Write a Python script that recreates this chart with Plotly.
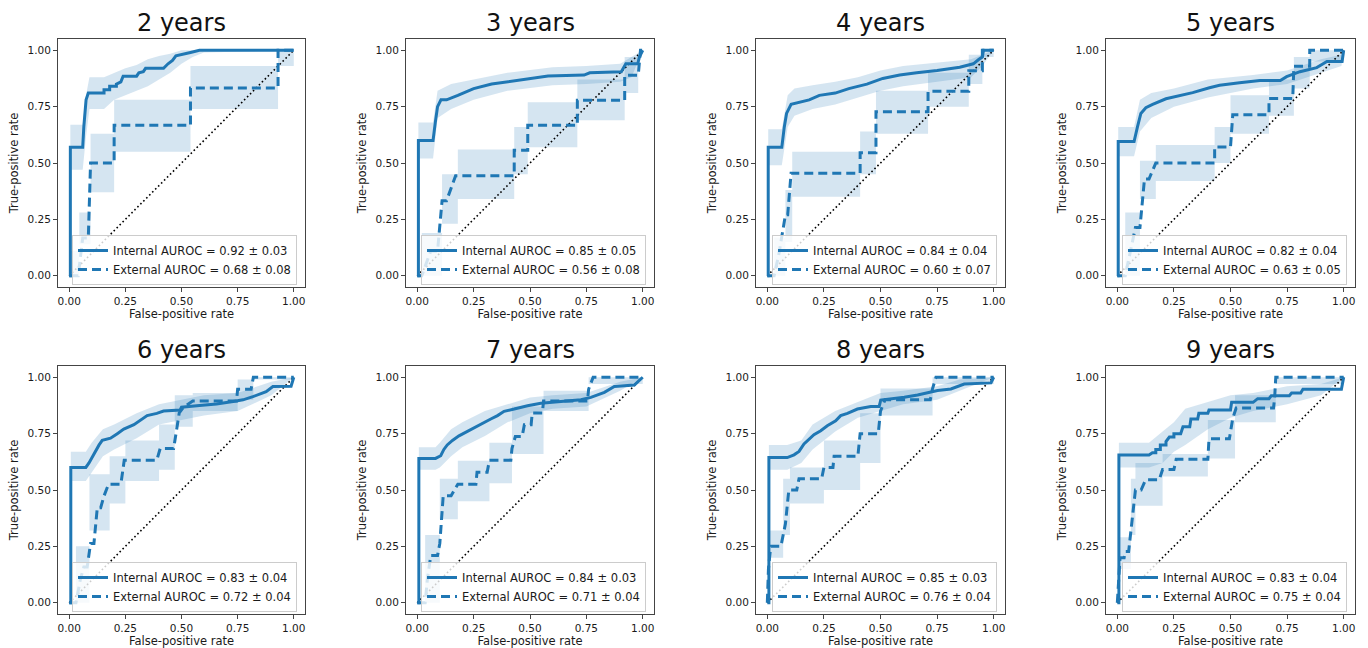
import plotly.graph_objects as go

# ---------------- data ----------------
PANEL_TITLES = ["2 years", "3 years", "4 years", "5 years", "6 years", "7 years", "8 years", "9 years"]
INT_LABELS = ["Internal AUROC = 0.92 ± 0.03", "Internal AUROC = 0.85 ± 0.05", "Internal AUROC = 0.84 ± 0.04",
              "Internal AUROC = 0.82 ± 0.04", "Internal AUROC = 0.83 ± 0.04", "Internal AUROC = 0.84 ± 0.03",
              "Internal AUROC = 0.85 ± 0.03", "Internal AUROC = 0.83 ± 0.04"]
EXT_LABELS = ["External AUROC = 0.68 ± 0.08", "External AUROC = 0.56 ± 0.08", "External AUROC = 0.60 ± 0.07",
              "External AUROC = 0.63 ± 0.05", "External AUROC = 0.72 ± 0.04", "External AUROC = 0.71 ± 0.04",
              "External AUROC = 0.76 ± 0.04", "External AUROC = 0.75 ± 0.04"]
TICK_VALS = [0, 0.25, 0.5, 0.75, 1.0]
TICK_TEXT = ["0.00", "0.25", "0.50", "0.75", "1.00"]

# 2 years
INT_X_2 = [0, 0.005, 0.005, 0.06, 0.065, 0.075, 0.085, 0.155, 0.155, 0.18, 0.18, 0.21, 0.21, 0.23, 0.24, 0.30, 0.31, 0.33, 0.34, 0.36, 0.42, 0.44, 0.46, 0.475, 0.50, 0.54, 0.58, 1.0]
INT_Y_2 = [0, 0, 0.57, 0.57, 0.66, 0.78, 0.81, 0.81, 0.825, 0.825, 0.84, 0.84, 0.85, 0.86, 0.885, 0.885, 0.90, 0.905, 0.92, 0.92, 0.92, 0.94, 0.955, 0.975, 0.98, 0.99, 1.0, 1.0]
IB_X_2 = [0.005, 0.06, 0.075, 0.09, 0.155, 0.20, 0.25, 0.30, 0.35, 0.40, 0.45, 0.50, 0.55, 0.60, 1.0]
IB_LO_2 = [0.47, 0.47, 0.62, 0.74, 0.74, 0.78, 0.80, 0.82, 0.84, 0.87, 0.90, 0.94, 0.97, 0.99, 1.0]
IB_HI_2 = [0.67, 0.67, 0.80, 0.88, 0.88, 0.90, 0.92, 0.935, 0.96, 0.975, 0.985, 1.0, 1.0, 1.0, 1.0]
EXT_X_2 = [0, 0.04, 0.06, 0.085, 0.095, 0.20, 0.20, 0.54, 0.54, 0.93, 0.93, 1.0]
EXT_Y_2 = [0, 0, 0.167, 0.167, 0.5, 0.5, 0.667, 0.667, 0.833, 0.833, 1.0, 1.0]
EB_X_2 = [0, 0.045, 0.095, 0.20, 0.54, 0.93, 1.0]
EB_LO_2 = [0, 0.14, 0.37, 0.55, 0.74, 0.93]
EB_HI_2 = [0.11, 0.28, 0.63, 0.78, 0.93, 1.0]

# 3 years
INT_X_3 = [0, 0.005, 0.005, 0.07, 0.08, 0.09, 0.105, 0.13, 0.18, 0.25, 0.33, 0.40, 0.49, 0.58, 0.74, 0.765, 0.905, 0.925, 0.978, 0.985, 1.0]
INT_Y_3 = [0, 0, 0.60, 0.60, 0.68, 0.75, 0.78, 0.78, 0.80, 0.83, 0.85, 0.86, 0.875, 0.886, 0.89, 0.90, 0.905, 0.94, 0.94, 0.97, 1.0]
IB_X_3 = [0.005, 0.07, 0.09, 0.15, 0.25, 0.40, 0.60, 0.75, 0.90, 0.95, 1.0]
IB_LO_3 = [0.52, 0.52, 0.70, 0.74, 0.78, 0.82, 0.845, 0.85, 0.86, 0.88, 1.0]
IB_HI_3 = [0.68, 0.68, 0.82, 0.85, 0.87, 0.90, 0.925, 0.93, 0.94, 0.97, 1.0]
EXT_X_3 = [0, 0.02, 0.06, 0.09, 0.11, 0.13, 0.17, 0.43, 0.43, 0.49, 0.49, 0.71, 0.71, 0.92, 0.92, 0.98, 0.99, 1.0]
EXT_Y_3 = [0, 0, 0.11, 0.11, 0.333, 0.333, 0.444, 0.444, 0.556, 0.556, 0.667, 0.667, 0.778, 0.778, 0.889, 0.889, 1.0, 1.0]
EB_X_3 = [0.02, 0.11, 0.18, 0.43, 0.49, 0.71, 0.92, 0.98, 1.0]
EB_LO_3 = [0.0, 0.23, 0.34, 0.45, 0.57, 0.69, 0.81, 1.0]
EB_HI_3 = [0.19, 0.45, 0.56, 0.66, 0.77, 0.87, 0.97, 1.0]

# 4 years
INT_X_4 = [0, 0.004, 0.004, 0.064, 0.075, 0.085, 0.105, 0.15, 0.185, 0.23, 0.30, 0.36, 0.44, 0.51, 0.585, 0.66, 0.75, 0.85, 0.91, 0.935, 0.95, 0.955, 1.0]
INT_Y_4 = [0, 0, 0.57, 0.57, 0.66, 0.72, 0.76, 0.77, 0.78, 0.80, 0.81, 0.83, 0.85, 0.875, 0.89, 0.90, 0.91, 0.925, 0.94, 0.96, 0.97, 1.0, 1.0]
IB_X_4 = [0.004, 0.064, 0.09, 0.12, 0.20, 0.30, 0.40, 0.50, 0.60, 0.75, 0.90, 0.95, 1.0]
IB_LO_4 = [0.49, 0.49, 0.66, 0.71, 0.74, 0.76, 0.79, 0.82, 0.84, 0.86, 0.88, 0.93, 1.0]
IB_HI_4 = [0.65, 0.65, 0.80, 0.83, 0.845, 0.86, 0.88, 0.91, 0.93, 0.945, 0.96, 0.98, 1.0]
EXT_X_4 = [0, 0.03, 0.05, 0.08, 0.09, 0.105, 0.41, 0.41, 0.48, 0.48, 0.71, 0.71, 0.89, 0.89, 0.95, 0.95, 1.0]
EXT_Y_4 = [0, 0, 0.09, 0.27, 0.27, 0.455, 0.455, 0.545, 0.545, 0.727, 0.727, 0.818, 0.818, 0.909, 0.909, 1.0, 1.0]
EB_X_4 = [0.03, 0.08, 0.11, 0.41, 0.48, 0.71, 0.89, 0.95, 1.0]
EB_LO_4 = [0.0, 0.15, 0.35, 0.45, 0.63, 0.75, 0.85, 0.97]
EB_HI_4 = [0.17, 0.38, 0.55, 0.64, 0.82, 0.90, 0.98, 1.0]

# 5 years
INT_X_5 = [0, 0.004, 0.004, 0.074, 0.089, 0.104, 0.126, 0.156, 0.215, 0.274, 0.333, 0.407, 0.452, 0.54, 0.63, 0.72, 0.748, 0.807, 0.881, 0.926, 0.993, 1.0]
INT_Y_5 = [0, 0, 0.595, 0.595, 0.66, 0.72, 0.745, 0.76, 0.785, 0.797, 0.812, 0.834, 0.845, 0.856, 0.866, 0.866, 0.883, 0.905, 0.923, 0.95, 0.95, 1.0]
IB_X_5 = [0.004, 0.074, 0.10, 0.15, 0.25, 0.40, 0.60, 0.75, 0.90, 0.99, 1.0]
IB_LO_5 = [0.53, 0.53, 0.64, 0.70, 0.75, 0.79, 0.83, 0.85, 0.90, 0.93, 1.0]
IB_HI_5 = [0.66, 0.66, 0.78, 0.81, 0.83, 0.87, 0.89, 0.91, 0.96, 0.98, 1.0]
EXT_X_5 = [0, 0.035, 0.05, 0.065, 0.08, 0.10, 0.12, 0.14, 0.17, 0.43, 0.43, 0.50, 0.51, 0.67, 0.67, 0.775, 0.78, 0.85, 0.85, 1.0]
EXT_Y_5 = [0, 0, 0.071, 0.143, 0.214, 0.214, 0.429, 0.429, 0.5, 0.5, 0.571, 0.571, 0.714, 0.714, 0.786, 0.786, 0.929, 0.929, 1.0, 1.0]
EB_X_5 = [0.035, 0.10, 0.17, 0.43, 0.50, 0.67, 0.78, 0.85, 1.0]
EB_LO_5 = [0.0, 0.34, 0.42, 0.50, 0.63, 0.71, 0.83, 0.95]
EB_HI_5 = [0.28, 0.51, 0.58, 0.66, 0.80, 0.87, 0.97, 1.0]

# 6 years
INT_X_6 = [0, 0.007, 0.007, 0.074, 0.088, 0.11, 0.133, 0.147, 0.184, 0.214, 0.243, 0.288, 0.317, 0.347, 0.39, 0.42, 0.494, 0.50, 0.58, 0.656, 0.73, 0.774, 0.818, 0.877, 0.907, 0.988, 1.0]
INT_Y_6 = [0, 0, 0.60, 0.60, 0.62, 0.66, 0.70, 0.72, 0.73, 0.75, 0.77, 0.79, 0.81, 0.83, 0.84, 0.85, 0.855, 0.867, 0.875, 0.881, 0.893, 0.90, 0.914, 0.936, 0.959, 0.96, 1.0]
IB_X_6 = [0.007, 0.074, 0.10, 0.15, 0.20, 0.30, 0.40, 0.50, 0.60, 0.75, 0.90, 1.0]
IB_LO_6 = [0.54, 0.54, 0.58, 0.65, 0.68, 0.73, 0.79, 0.81, 0.83, 0.85, 0.92, 1.0]
IB_HI_6 = [0.67, 0.67, 0.71, 0.77, 0.79, 0.84, 0.88, 0.90, 0.92, 0.93, 0.98, 1.0]
EXT_X_6 = [0, 0.03, 0.05, 0.065, 0.08, 0.095, 0.11, 0.125, 0.14, 0.155, 0.175, 0.23, 0.245, 0.39, 0.405, 0.465, 0.49, 0.51, 0.55, 0.745, 0.75, 0.81, 0.82, 1.0]
EXT_Y_6 = [0, 0, 0.105, 0.158, 0.158, 0.263, 0.263, 0.421, 0.421, 0.474, 0.526, 0.526, 0.632, 0.632, 0.684, 0.684, 0.842, 0.868, 0.895, 0.895, 0.947, 0.947, 1.0, 1.0]
EB_X_6 = [0.03, 0.09, 0.18, 0.25, 0.40, 0.47, 0.55, 0.75, 0.82, 1.0]
EB_LO_6 = [0.0, 0.32, 0.44, 0.54, 0.59, 0.78, 0.85, 0.90, 0.99]
EB_HI_6 = [0.25, 0.57, 0.65, 0.72, 0.79, 0.92, 0.93, 0.99, 1.0]

# 7 years
INT_X_7 = [0, 0.007, 0.007, 0.081, 0.104, 0.118, 0.133, 0.156, 0.185, 0.222, 0.252, 0.296, 0.326, 0.356, 0.385, 0.43, 0.489, 0.548, 0.637, 0.726, 0.77, 0.83, 0.874, 0.963, 1.0]
INT_Y_7 = [0, 0, 0.64, 0.64, 0.652, 0.68, 0.70, 0.72, 0.74, 0.76, 0.778, 0.80, 0.815, 0.83, 0.849, 0.859, 0.874, 0.885, 0.893, 0.90, 0.911, 0.933, 0.959, 0.966, 1.0]
IB_X_7 = [0.007, 0.081, 0.10, 0.15, 0.20, 0.30, 0.40, 0.50, 0.60, 0.75, 0.90, 1.0]
IB_LO_7 = [0.59, 0.59, 0.60, 0.65, 0.69, 0.74, 0.80, 0.84, 0.86, 0.87, 0.94, 1.0]
IB_HI_7 = [0.69, 0.69, 0.71, 0.77, 0.80, 0.85, 0.88, 0.91, 0.92, 0.93, 0.98, 1.0]
EXT_X_7 = [0, 0.035, 0.045, 0.06, 0.09, 0.10, 0.115, 0.15, 0.18, 0.26, 0.265, 0.31, 0.32, 0.415, 0.42, 0.435, 0.465, 0.475, 0.505, 0.51, 0.555, 0.56, 0.755, 0.76, 0.78, 1.0]
EXT_Y_7 = [0, 0, 0.105, 0.21, 0.21, 0.263, 0.474, 0.474, 0.526, 0.526, 0.579, 0.579, 0.632, 0.632, 0.684, 0.737, 0.737, 0.789, 0.789, 0.842, 0.842, 0.895, 0.895, 0.947, 1.0, 1.0]
EB_X_7 = [0.035, 0.10, 0.18, 0.32, 0.42, 0.56, 0.76, 1.0]
EB_LO_7 = [0.0, 0.37, 0.45, 0.53, 0.66, 0.85, 0.97]
EB_HI_7 = [0.30, 0.55, 0.63, 0.71, 0.87, 0.94, 1.0]

# 8 years
INT_X_8 = [0, 0.007, 0.007, 0.088, 0.118, 0.14, 0.162, 0.184, 0.206, 0.236, 0.265, 0.302, 0.324, 0.354, 0.398, 0.457, 0.494, 0.501, 0.56, 0.605, 0.664, 0.752, 0.811, 0.87, 0.988, 1.0]
INT_Y_8 = [0, 0, 0.644, 0.644, 0.656, 0.671, 0.704, 0.726, 0.745, 0.763, 0.785, 0.807, 0.83, 0.84, 0.859, 0.87, 0.87, 0.899, 0.905, 0.911, 0.921, 0.941, 0.948, 0.97, 0.975, 1.0]
IB_X_8 = [0.007, 0.088, 0.15, 0.20, 0.30, 0.40, 0.50, 0.60, 0.75, 0.85, 1.0]
IB_LO_8 = [0.59, 0.59, 0.62, 0.68, 0.76, 0.82, 0.85, 0.88, 0.90, 0.94, 1.0]
IB_HI_8 = [0.70, 0.70, 0.72, 0.79, 0.85, 0.89, 0.93, 0.94, 0.96, 0.99, 1.0]
EXT_X_8 = [0, 0.005, 0.015, 0.06, 0.08, 0.095, 0.13, 0.14, 0.24, 0.25, 0.29, 0.295, 0.40, 0.41, 0.49, 0.50, 0.52, 0.72, 0.73, 0.745, 1.0]
EXT_Y_8 = [0, 0.15, 0.25, 0.25, 0.35, 0.5, 0.5, 0.55, 0.55, 0.6, 0.6, 0.65, 0.65, 0.75, 0.75, 0.85, 0.9, 0.9, 0.95, 1.0, 1.0]
EB_X_8 = [0.005, 0.07, 0.10, 0.25, 0.41, 0.50, 0.73, 1.0]
EB_LO_8 = [0.20, 0.30, 0.44, 0.50, 0.62, 0.83, 0.97]
EB_HI_8 = [0.32, 0.55, 0.60, 0.72, 0.84, 0.95, 1.0]

# 9 years
INT_X_9 = [0, 0.007, 0.007, 0.14, 0.155, 0.17, 0.17, 0.19, 0.19, 0.215, 0.215, 0.23, 0.25, 0.25, 0.28, 0.29, 0.32, 0.325, 0.355, 0.36, 0.40, 0.405, 0.50, 0.505, 0.60, 0.62, 0.67, 0.68, 0.76, 0.77, 0.81, 0.82, 0.99, 1.0]
INT_Y_9 = [0, 0, 0.655, 0.655, 0.665, 0.665, 0.68, 0.68, 0.70, 0.70, 0.715, 0.735, 0.735, 0.75, 0.75, 0.78, 0.78, 0.815, 0.815, 0.84, 0.84, 0.855, 0.855, 0.889, 0.889, 0.905, 0.905, 0.918, 0.918, 0.93, 0.93, 0.947, 0.947, 1.0]
IB_X_9 = [0.007, 0.14, 0.20, 0.25, 0.30, 0.40, 0.50, 0.60, 0.75, 0.90, 1.0]
IB_LO_9 = [0.60, 0.60, 0.62, 0.67, 0.70, 0.77, 0.82, 0.85, 0.88, 0.92, 1.0]
IB_HI_9 = [0.71, 0.71, 0.76, 0.80, 0.86, 0.89, 0.92, 0.93, 0.96, 0.97, 1.0]
EXT_X_9 = [0, 0.005, 0.012, 0.03, 0.035, 0.05, 0.065, 0.08, 0.105, 0.125, 0.185, 0.20, 0.25, 0.26, 0.40, 0.405, 0.495, 0.51, 0.525, 0.69, 0.695, 0.70, 1.0]
EXT_Y_9 = [0, 0.1, 0.2, 0.2, 0.227, 0.227, 0.364, 0.5, 0.5, 0.545, 0.545, 0.591, 0.591, 0.636, 0.636, 0.727, 0.727, 0.818, 0.864, 0.864, 0.909, 1.0, 1.0]
EB_X_9 = [0.005, 0.06, 0.08, 0.20, 0.40, 0.52, 0.70, 1.0]
EB_LO_9 = [0.15, 0.30, 0.43, 0.56, 0.64, 0.80, 0.97]
EB_HI_9 = [0.29, 0.55, 0.62, 0.66, 0.81, 0.92, 1.0]

PANELS = [
    (INT_X_2, INT_Y_2, IB_X_2, IB_LO_2, IB_HI_2, EXT_X_2, EXT_Y_2, EB_X_2, EB_LO_2, EB_HI_2),
    (INT_X_3, INT_Y_3, IB_X_3, IB_LO_3, IB_HI_3, EXT_X_3, EXT_Y_3, EB_X_3, EB_LO_3, EB_HI_3),
    (INT_X_4, INT_Y_4, IB_X_4, IB_LO_4, IB_HI_4, EXT_X_4, EXT_Y_4, EB_X_4, EB_LO_4, EB_HI_4),
    (INT_X_5, INT_Y_5, IB_X_5, IB_LO_5, IB_HI_5, EXT_X_5, EXT_Y_5, EB_X_5, EB_LO_5, EB_HI_5),
    (INT_X_6, INT_Y_6, IB_X_6, IB_LO_6, IB_HI_6, EXT_X_6, EXT_Y_6, EB_X_6, EB_LO_6, EB_HI_6),
    (INT_X_7, INT_Y_7, IB_X_7, IB_LO_7, IB_HI_7, EXT_X_7, EXT_Y_7, EB_X_7, EB_LO_7, EB_HI_7),
    (INT_X_8, INT_Y_8, IB_X_8, IB_LO_8, IB_HI_8, EXT_X_8, EXT_Y_8, EB_X_8, EB_LO_8, EB_HI_8),
    (INT_X_9, INT_Y_9, IB_X_9, IB_LO_9, IB_HI_9, EXT_X_9, EXT_Y_9, EB_X_9, EB_LO_9, EB_HI_9),
]

# ---------------- styling / layout ----------------
W, H = 1368, 648
FONT = "DejaVu Sans"
BLUE = "#1f77b4"
BAND = "rgba(31,119,180,0.19)"
COL_PX = [(58, 305), (406, 654), (756, 1005), (1106, 1355)]
ROW_PX = [(39, 287), (366, 614)]
TITLE_CY = [23, 350]


def step_band(edges, lo, hi):
    xs, ylo, yhi = [], [], []
    for i in range(len(lo)):
        xs += [edges[i], edges[i + 1]]
        ylo += [lo[i], lo[i]]
        yhi += [hi[i], hi[i]]
    return xs + xs[::-1], yhi + ylo[::-1]


fig = go.Figure()
layout = dict(
    width=W, height=H, margin=dict(l=0, r=0, t=0, b=0),
    paper_bgcolor="white", plot_bgcolor="white",
    font=dict(family=FONT, color="#1a1a1a"),
    annotations=[],
)

for i, p in enumerate(PANELS):
    ix, iy, ibx, iblo, ibhi, ex, ey, ebx, eblo, ebhi = p
    r, c = divmod(i, 4)
    sfx = "" if i == 0 else str(i + 1)
    xa, ya = "x" + sfx, "y" + sfx
    leg = "legend" + sfx
    l_px, r_px = COL_PX[c]
    t_px, b_px = ROW_PX[r]

    # internal band
    fig.add_trace(go.Scatter(x=ibx + ibx[::-1], y=ibhi + iblo[::-1], fill="toself", fillcolor=BAND,
                             line=dict(width=0), mode="lines", hoverinfo="skip", showlegend=False,
                             xaxis=xa, yaxis=ya))
    # external band
    bx, by = step_band(ebx, eblo, ebhi)
    fig.add_trace(go.Scatter(x=bx, y=by, fill="toself", fillcolor=BAND, line=dict(width=0), mode="lines",
                             hoverinfo="skip", showlegend=False, xaxis=xa, yaxis=ya))
    # chance diagonal
    fig.add_trace(go.Scatter(x=[0, 1], y=[0, 1], mode="lines", line=dict(color="black", width=1.6, dash="1.6px,2.6px"),
                             showlegend=False, hoverinfo="skip", xaxis=xa, yaxis=ya))
    # curves
    fig.add_trace(go.Scatter(x=ix, y=iy, mode="lines", line=dict(color=BLUE, width=3), name=INT_LABELS[i],
                             legend=leg, xaxis=xa, yaxis=ya))
    fig.add_trace(go.Scatter(x=ex, y=ey, mode="lines", line=dict(color=BLUE, width=3, dash="9px,5px"),
                             name=EXT_LABELS[i], legend=leg, xaxis=xa, yaxis=ya))

    axis_common = dict(range=[-0.05, 1.05], tickvals=TICK_VALS, ticktext=TICK_TEXT, showgrid=False,
                       zeroline=False, showline=True, mirror=True, linecolor="#444", linewidth=1,
                       ticks="outside", ticklen=4, tickcolor="#444", tickfont=dict(size=10.5, family=FONT, color="#1a1a1a"))
    layout["xaxis" + sfx] = dict(axis_common, domain=[l_px / W, r_px / W], anchor=ya,
                                 title=dict(text="False-positive rate", font=dict(size=11.5, family=FONT), standoff=3))
    layout["yaxis" + sfx] = dict(axis_common, domain=[1 - b_px / H, 1 - t_px / H], anchor=xa,
                                 title=dict(text="True-positive rate", font=dict(size=11.5, family=FONT), standoff=6))
    layout[leg] = dict(x=(r_px - 8) / W, y=1 - (b_px - 2) / H, xanchor="right", yanchor="bottom",
                       bgcolor="rgba(255,255,255,0.8)", bordercolor="#cccccc", borderwidth=1,
                       font=dict(size=11.5, family=FONT, color="#1a1a1a"), tracegroupgap=0,
                       itemwidth=30, traceorder="normal")
    layout["annotations"].append(dict(text=PANEL_TITLES[i], x=(l_px + r_px) / 2 / W, y=1 - TITLE_CY[r] / H,
                                      xref="paper", yref="paper", xanchor="center", yanchor="middle",
                                      showarrow=False, font=dict(size=24, family=FONT, color="#111")))

fig.update_layout(**layout)
fig.write_html("out.html", config={"displayModeBar": False},
               post_script="document.body.style.margin='0';document.body.style.overflow='hidden';")
